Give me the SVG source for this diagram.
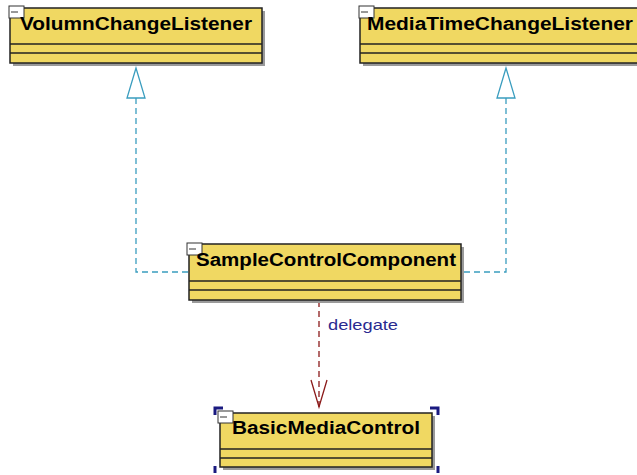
<svg xmlns="http://www.w3.org/2000/svg" width="637" height="475" viewBox="0 0 637 475">
<defs>
<style>
.box{fill:#f0d862;stroke:#222;stroke-width:1.5}
.shadow{fill:#9a9a9a}
.sep{stroke:#222;stroke-width:1.5}
.title{font-family:"Liberation Sans",Arial,sans-serif;font-weight:bold;font-size:18px;fill:#000}
.icon{fill:#fff;stroke:#333;stroke-width:1}
.real{fill:none;stroke:#3a9dbf;stroke-width:1.3;stroke-dasharray:6 4}
.dep{fill:none;stroke:#8b1a1a;stroke-width:1.3;stroke-dasharray:6 4}
.lbl{font-family:"Liberation Sans",Arial,sans-serif;font-size:15px;fill:#2a2a90}
.sel{fill:none;stroke:#1a1a80;stroke-width:3}
</style>
</defs>
<rect width="637" height="475" fill="#fff"/>
<g id="connectors">
<polyline class="real" points="136,98 136,272 189,272"/>
<polygon points="136,68 127,98 145,98" fill="#fff" stroke="#3a9dbf" stroke-width="1.3"/>
<polyline class="real" points="506,98 506,272 461,272"/>
<polygon points="506,68 497,98 515,98" fill="#fff" stroke="#3a9dbf" stroke-width="1.3"/>
<line class="dep" x1="319" y1="301" x2="319" y2="407"/>
<polyline points="311,380 319,407 327,380" fill="none" stroke="#8b1a1a" stroke-width="1.3"/>
<text class="lbl" x="328" y="330" textLength="70" lengthAdjust="spacingAndGlyphs">delegate</text>
</g>
<g id="VolumnChangeListener">
<rect class="shadow" x="13" y="11" width="252" height="55"/>
<rect class="box" x="10" y="8" width="252" height="55"/>
<line class="sep" x1="10" y1="44" x2="262" y2="44"/>
<line class="sep" x1="10" y1="53" x2="262" y2="53"/>
<rect class="icon" x="9" y="6" width="15" height="12"/>
<line x1="11" y1="12" x2="18" y2="12" stroke="#333" stroke-width="1"/>
<text class="title" x="20" y="30" textLength="232" lengthAdjust="spacingAndGlyphs">VolumnChangeListener</text>
</g>
<g id="MediaTimeChangeListener">
<rect class="shadow" x="363" y="11" width="280" height="55"/>
<rect class="box" x="360" y="8" width="280" height="55"/>
<line class="sep" x1="360" y1="44" x2="637" y2="44"/>
<line class="sep" x1="360" y1="53" x2="637" y2="53"/>
<rect class="icon" x="359" y="6" width="15" height="12"/>
<line x1="361" y1="12" x2="368" y2="12" stroke="#333" stroke-width="1"/>
<text class="title" x="367" y="30" textLength="266" lengthAdjust="spacingAndGlyphs">MediaTimeChangeListener</text>
</g>
<g id="SampleControlComponent">
<rect class="shadow" x="192" y="247" width="272" height="56"/>
<rect class="box" x="189" y="244" width="272" height="56"/>
<line class="sep" x1="189" y1="281" x2="461" y2="281"/>
<line class="sep" x1="189" y1="290" x2="461" y2="290"/>
<rect class="icon" x="187" y="243" width="15" height="12"/>
<line x1="189" y1="249" x2="196" y2="249" stroke="#333" stroke-width="1"/>
<text class="title" x="196" y="266" textLength="260" lengthAdjust="spacingAndGlyphs">SampleControlComponent</text>
</g>
<g id="BasicMediaControl">
<rect class="shadow" x="223" y="416" width="212" height="54"/>
<rect class="box" x="220" y="413" width="212" height="54"/>
<line class="sep" x1="220" y1="449" x2="432" y2="449"/>
<line class="sep" x1="220" y1="458" x2="432" y2="458"/>
<rect class="icon" x="218" y="411" width="15" height="12"/>
<line x1="220" y1="417" x2="227" y2="417" stroke="#333" stroke-width="1"/>
<text class="title" x="232" y="434" textLength="188" lengthAdjust="spacingAndGlyphs">BasicMediaControl</text>
<polyline class="sel" points="215,415 215,408 223,408"/>
<polyline class="sel" points="430,408 438,408 438,415"/>
<polyline class="sel" points="215,466 215,473"/>
<polyline class="sel" points="438,466 438,473"/>
</g>
</svg>
